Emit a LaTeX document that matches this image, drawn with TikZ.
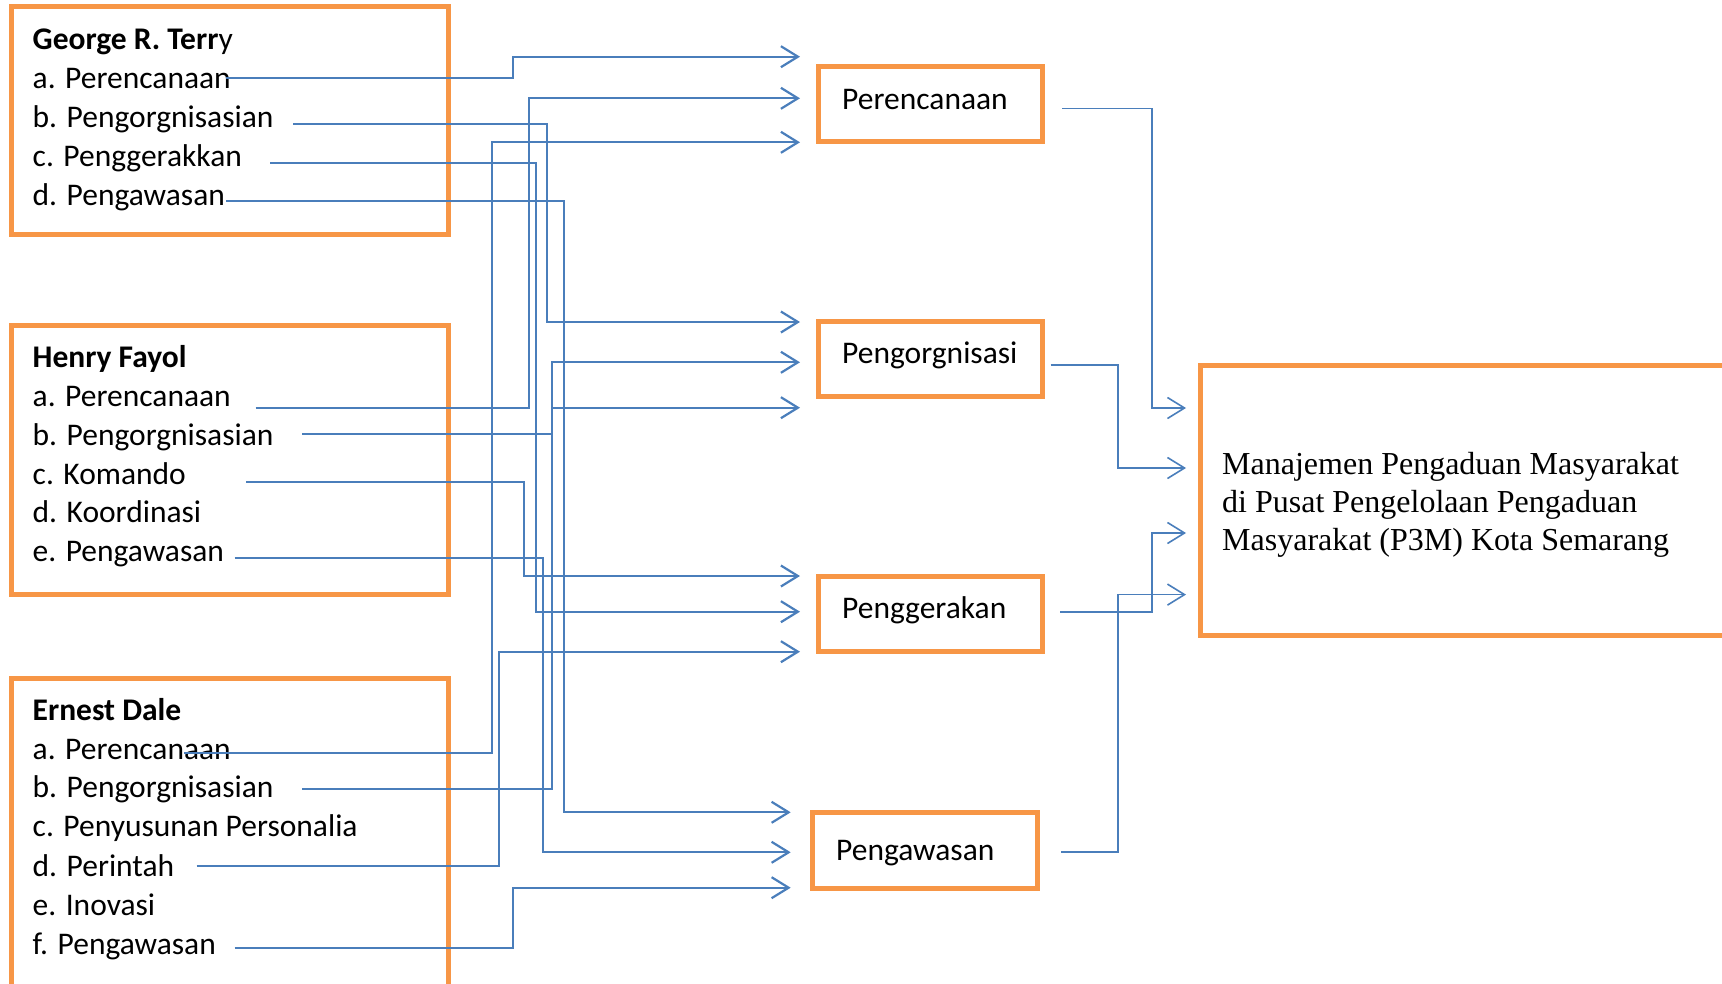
\documentclass[tikz,border=0pt]{standalone}
\usepackage{fontspec}
\setmainfont{Carlito}
\newfontfamily\tnr{Liberation Serif}
\usetikzlibrary{arrows.meta}
\definecolor{boxorange}{HTML}{F79646}
\definecolor{linkblue}{HTML}{4A7EBB}
\begin{document}
\begin{tikzpicture}[x=1pt,y=-1pt,
  txt/.style={anchor=base west,inner sep=0pt,font=\fontsize{31.5}{38}\selectfont},
  bigtxt/.style={anchor=base west,inner sep=0pt,font=\tnr\fontsize{32}{38}\selectfont},
  obox/.style={draw=boxorange,line width=5pt,anchor=north west,inner sep=0pt,outer sep=0pt},
  link/.style={draw=linkblue,line width=2.2pt,-{Straight Barb[length=17pt,width=21pt]}},
  linkthin/.style={draw=linkblue,line width=1.6pt,-{Straight Barb[length=17pt,width=21pt]}}
]
\useasboundingbox (0,0) rectangle (1722,983);
\begin{scope}
\clip (0,0) rectangle (1722,983);
% source boxes
\node[obox,minimum width=437pt,minimum height=228pt] (gbox) at (11,6.5) {};
\node[obox,minimum width=437pt,minimum height=269pt] (hbox) at (11,325) {};
\node[obox,minimum width=437pt,minimum height=340pt] (ebox) at (11,678) {};
% middle boxes
\node[obox,minimum width=224pt,minimum height=75pt] (perenc) at (818,66.7) {};
\node[obox,minimum width=224pt,minimum height=75pt] (pengorg) at (818,321) {};
\node[obox,minimum width=224pt,minimum height=75.7pt] (pengger) at (818,576) {};
\node[obox,minimum width=224.7pt,minimum height=75.6pt] (pengaw) at (812.3,812.7) {};
% target box
\node[obox,minimum width=560pt,minimum height=270pt] (target) at (1200,365) {};
\end{scope}
% George R. Terry
\node[txt] (gt) at (32.5,49.3) {\textbf{George R. Terr}y};
\node[txt] (g1) at (32.5,88.3) {a. Perencanaan};
\node[txt] (g2) at (32.5,127.7) {b. Pengorgnisasian};
\node[txt] (g3) at (32.5,166.7) {c. Penggerakkan};
\node[txt] (g4) at (32.5,205.5) {d. Pengawasan};
% Henry Fayol
\node[txt] (ht) at (32.5,367.7) {\textbf{Henry Fayol}};
\node[txt] (h1) at (32.5,406.7) {a. Perencanaan};
\node[txt] (h2) at (32.5,445.3) {b. Pengorgnisasian};
\node[txt] (h3) at (32.5,484) {c. Komando};
\node[txt] (h4) at (32.5,522.7) {d. Koordinasi};
\node[txt] (h5) at (32.5,561.7) {e. Pengawasan};
% Ernest Dale
\node[txt] (et) at (32.5,720) {\textbf{Ernest Dale}};
\node[txt] (e1) at (32.5,759.3) {a. Perencanaan};
\node[txt] (e2) at (32.5,797.7) {b. Pengorgnisasian};
\node[txt] (e3) at (32.5,836.7) {c. Penyusunan Personalia};
\node[txt] (e4) at (32.5,876) {d. Perintah};
\node[txt] (e5) at (32.5,915) {e. Inovasi};
\node[txt] (e6) at (32.5,954.3) {f. Pengawasan};
% middle labels
\node[txt] (tperenc) at (842,109) {Perencanaan};
\node[txt] (tpengorg) at (842,363) {Pengorgnisasi};
\node[txt] (tpengger) at (842,618) {Penggerakan};
\node[txt] (tpengaw) at (836,860) {Pengawasan};
% target text
\node[bigtxt] (m1) at (1222,474) {Manajemen Pengaduan Masyarakat};
\node[bigtxt] (m2) at (1222,512.3) {di Pusat Pengelolaan Pengaduan};
\node[bigtxt] (m3) at (1222,550.6) {Masyarakat (P3M) Kota Semarang};
% connector start points
\coordinate (ga) at (226,78.3);
\coordinate (gb) at (293,124.3);
\coordinate (gc) at (270,163.3);
\coordinate (gd) at (226,200.7);
\coordinate (ha) at (255.6,407.7);
\coordinate (hb) at (302.3,434);
\coordinate (hc) at (246,482.3);
\coordinate (he) at (234.6,558.3);
\coordinate (ea) at (184,753.3);
\coordinate (eb) at (302,789.3);
\coordinate (ed) at (196.6,865.7);
\coordinate (ef) at (234.6,947.7);
% vertical lanes
\coordinate (lga) at (513.3,0);
\coordinate (lha) at (529,0);
\coordinate (lea) at (491.7,0);
\coordinate (lgb) at (546.7,0);
\coordinate (leb) at (551.7,0);
\coordinate (lhc) at (524,0);
\coordinate (lgc) at (535.7,0);
\coordinate (led) at (499,0);
\coordinate (lgd) at (564,0);
\coordinate (lhe) at (543.3,0);
\coordinate (lef) at (512.7,0);
% arrow tips
\coordinate (p1) at (800,56.7);
\coordinate (p2) at (800,98.3);
\coordinate (p3) at (800,142.3);
\coordinate (o1) at (800,322);
\coordinate (o2) at (800,362.3);
\coordinate (o3) at (800,407.7);
\coordinate (k1) at (800,576);
\coordinate (k2) at (800,611.7);
\coordinate (k3) at (800,651.7);
\coordinate (w1) at (790.7,812.3);
\coordinate (w2) at (790.7,852.3);
\coordinate (w3) at (790.7,887.7);
% left connectors
\draw[link] (ga) -- (ga -| lga) |- (p1);
\draw[link] (ha) -- (ha -| lha) |- (p2);
\draw[link] (ea) -- (ea -| lea) |- (p3);
\draw[link] (gb) -- (gb -| lgb) |- (o1);
\draw[link] (eb) -- (eb -| leb) |- (o2);
\draw[link] (hb) -- (hb -| leb) |- (o3);
\draw[link] (hc) -- (hc -| lhc) |- (k1);
\draw[link] (gc) -- (gc -| lgc) |- (k2);
\draw[link] (ed) -- (ed -| led) |- (k3);
\draw[link] (gd) -- (gd -| lgd) |- (w1);
\draw[link] (he) -- (he -| lhe) |- (w2);
\draw[link] (ef) -- (ef -| lef) |- (w3);
% right connectors
\coordinate (r1) at (1062,108.6);
\coordinate (r2) at (1050.6,365);
\coordinate (r3) at (1060,612);
\coordinate (r4) at (1061,852);
\coordinate (l1) at (1151.7,0);
\coordinate (l2) at (1118,0);
\coordinate (t1) at (1186,408);
\coordinate (t2) at (1186,468);
\coordinate (t3) at (1186,533);
\coordinate (t4) at (1186,594.6);
\draw[linkthin] (r1) -- (r1 -| l1) |- (t1);
\draw[linkthin] (r2) -- (r2 -| l2) |- (t2);
\draw[linkthin] (r3) -- (r3 -| l1) |- (t3);
\draw[linkthin] (r4) -- (r4 -| l2) |- (t4);
\end{tikzpicture}
\end{document}
